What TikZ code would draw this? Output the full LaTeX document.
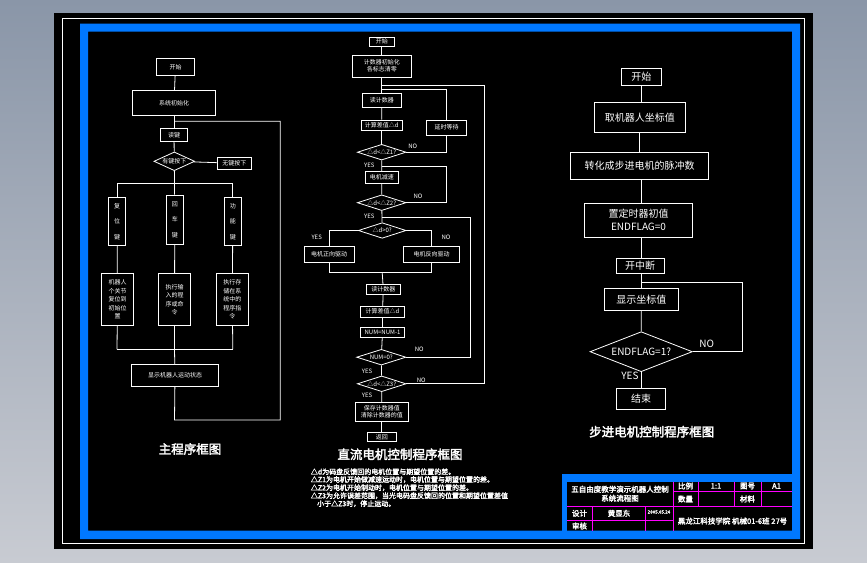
\documentclass[tikz,border=0pt]{standalone}
\usepackage{fontspec}
\newfontfamily\cjk{Noto Sans CJK SC}
\newfontfamily\cjkb{Noto Sans CJK SC}[FakeBold=2.5]
\usetikzlibrary{shapes.geometric}
\definecolor{cadblue}{RGB}{0,120,255}
\definecolor{mag}{RGB}{255,0,255}
\definecolor{bgtop}{RGB}{138,150,168}
\definecolor{bgbot}{RGB}{200,203,210}
\begin{document}
\begin{tikzpicture}[x=1pt,y=-1pt,
  bx/.style={draw=white, line width=0.8pt, text=white, inner sep=0pt, align=center, font=\cjk\fontsize{6}{7}\selectfont},
  bxr/.style={draw=white, line width=0.8pt, text=white, inner sep=0pt, align=center, font=\cjk\fontsize{10}{13}\selectfont},
  dia/.style={diamond, aspect=3, draw=white, line width=0.8pt, text=white, inner sep=0pt, font=\cjk\fontsize{6}{7}\selectfont},
  diar/.style={diamond, aspect=3, draw=white, line width=0.8pt, text=white, inner sep=0pt, font=\cjk\fontsize{10}{12}\selectfont},
  ln/.style={draw=white, line width=0.8pt},
  lbl/.style={text=white, inner sep=0pt, font=\cjk\fontsize{6}{7}\selectfont},
  lblr/.style={text=white, inner sep=0pt, font=\cjk\fontsize{10}{12}\selectfont},
  ttl/.style={text=white, inner sep=0pt, font=\cjkb\fontsize{12.5}{14}\selectfont},
  note/.style={text=white, inner sep=0pt, anchor=west, font=\cjkb\fontsize{7}{8}\selectfont},
  tb/.style={text=white, inner sep=0pt, align=center, font=\cjkb\fontsize{7.5}{9}\selectfont},
  mg/.style={draw=mag, line width=0.8pt}
]
\useasboundingbox (0,0) rectangle (867,562);
\shade[top color=bgtop, bottom color=bgbot] (0,0) rectangle (867,562);
\fill[black] (54,13) rectangle (813,549);
\draw[white, line width=1pt] (62,18.5) rectangle (804.5,543);
\fill[cadblue, even odd rule] (80,23.5) rectangle (800,539) (88,31.7) rectangle (792,530.7);

% ---------------- left chart ----------------
\node[bx, minimum width=38.7pt, minimum height=17pt] (l0) at (175.5,66.8) {开始};
\node[bx, minimum width=83.4pt, minimum height=25pt] (l1) at (174,102.8) {系统初始化};
\node[bx, minimum width=27.7pt, minimum height=13pt] (l2) at (174,134.8) {读键};
\node[dia, minimum width=38.7pt, minimum height=18.7pt] (l3) at (174.3,161.3) {有键按下};
\node[bx, minimum width=34.7pt, minimum height=12.3pt] (l4) at (234.3,163.2) {无键按下};
\node[bx, minimum width=17.4pt, minimum height=48pt, font=\cjk\fontsize{6}{15.5}\selectfont] (k1) at (117,221.3) {复\\位\\键};
\node[bx, minimum width=17.7pt, minimum height=49.7pt, font=\cjk\fontsize{6}{15.5}\selectfont] (k2) at (174.8,219.8) {回\\车\\键};
\node[bx, minimum width=17.7pt, minimum height=48pt, font=\cjk\fontsize{6}{15.5}\selectfont] (k3) at (232.8,221.3) {功\\能\\键};
\node[bx, minimum width=32.4pt, minimum height=52.4pt, font=\cjk\fontsize{6}{8.5}\selectfont] (a1) at (117.5,299.5) {机器人\\个关节\\复位到\\初始位\\置};
\node[bx, minimum width=32.4pt, minimum height=52.4pt, font=\cjk\fontsize{6}{8.5}\selectfont] (a2) at (174.5,299.5) {执行输\\入的程\\序或命\\令};
\node[bx, minimum width=32.7pt, minimum height=52.4pt, font=\cjk\fontsize{6}{8.5}\selectfont] (a3) at (232.3,299.5) {执行存\\储在系\\统中的\\程序指\\令};
\node[bx, minimum width=87.4pt, minimum height=22.4pt] (l5) at (175,375.5) {显示机器人运动状态};
\coordinate (lb1) at (117,183.3); \coordinate (lb2) at (174.5,183.3); \coordinate (lb3) at (232.8,183.3);
\coordinate (lc1) at (117,349.3); \coordinate (lc2) at (174.5,349.3); \coordinate (lc3) at (232.8,349.3);
\coordinate (lp1) at (174.5,121.3); \coordinate (lp2) at (280.3,121.3);
\coordinate (lp3) at (280.3,420); \coordinate (lp4) at (174.5,420);
\draw[ln] (l0) -- (l1); \draw[ln] (l1) -- (l2); \draw[ln] (l2) -- (l3);
\draw[ln] (l3) -- (l4);
\draw[ln] (l3) -- (lb2);
\draw[ln] (lb1) -- (lb3);
\draw[ln] (lb1) -- (k1); \draw[ln] (lb2) -- (k2); \draw[ln] (lb3) -- (k3);
\draw[ln] (k1) -- (a1); \draw[ln] (k2) -- (a2); \draw[ln] (k3) -- (a3);
\draw[ln] (a1) -- (lc1); \draw[ln] (a2) -- (lc2); \draw[ln] (a3) -- (lc3);
\draw[ln] (lc1) -- (lc3);
\draw[ln] (lc2) -- (l5);
\draw[ln] (l5) -- (lp4) -- (lp3) -- (lp2) -- (lp1);
\node[ttl] (lt) at (190,449) {主程序框图};

% ---------------- middle chart ----------------
\node[bx, minimum width=25.7pt, minimum height=8.7pt] (m0) at (381.8,41.7) {开始};
\node[bx, minimum width=59pt, minimum height=22.3pt] (m1) at (381.8,66.2) {计数器初始化\\各标志清零};
\node[bx, minimum width=39pt, minimum height=14pt] (m2) at (381.8,100.3) {读计数器};
\node[bx, minimum width=41.3pt, minimum height=10pt] (m3) at (381.7,125) {计算差值△d};
\node[bx, minimum width=40.4pt, minimum height=15pt] (m4) at (446.5,127.5) {延时等待};
\node[dia, minimum width=48.7pt, minimum height=15.7pt] (m5) at (381.7,152.2) {△d<△Z1?};
\node[bx, minimum width=33.7pt, minimum height=11.6pt] (m6) at (381.8,177.5) {电机减速};
\node[dia, minimum width=48.7pt, minimum height=15.7pt] (m7) at (381.7,202.7) {△d<△Z2?};
\node[dia, minimum width=47.7pt, minimum height=15.6pt] (m8) at (382.2,230.5) {△d>0?};
\node[bx, minimum width=50.3pt, minimum height=16.3pt] (m9) at (329.2,254.2) {电机正向驱动};
\node[bx, minimum width=56.4pt, minimum height=16.3pt] (m10) at (431.5,254.2) {电机反向驱动};
\node[bx, minimum width=34pt, minimum height=10pt] (m11) at (383.3,289.3) {读计数器};
\node[bx, minimum width=44.4pt, minimum height=11pt] (m12) at (382.5,311.7) {计算差值△d};
\node[bx, minimum width=44.4pt, minimum height=10pt] (m13) at (382.5,332.7) {NUM=NUM-1};
\node[dia, minimum width=49.3pt, minimum height=15.7pt] (m14) at (381.3,357.2) {NUM=0?};
\node[dia, minimum width=48.7pt, minimum height=15.7pt] (m15) at (381.7,383.8) {△d<△Z3?};
\node[bx, minimum width=53.7pt, minimum height=19.4pt] (m16) at (381.8,412) {保存计数器值\\清除计数器的值};
\node[bx, minimum width=29pt, minimum height=9.7pt] (m17) at (381.8,436.8) {返回};
\coordinate (mo1) at (381.8,85); \coordinate (mo2) at (484.3,85); \coordinate (mo3) at (484.3,383.8);
\coordinate (mi1) at (381.8,89.3); \coordinate (mi2) at (446.5,89.3); \coordinate (mi3) at (446.5,152.2);
\coordinate (mj1) at (381.8,166.7); \coordinate (mj2) at (446.7,166.7); \coordinate (mj3) at (446.7,202.7);
\coordinate (mk1) at (381.8,217.7); \coordinate (mk2) at (470.3,217.7); \coordinate (mk3) at (470.3,357.2);
\coordinate (mq1) at (329.2,230.5); \coordinate (mq2) at (431.5,230.5);
\coordinate (mr1) at (329.2,272.3); \coordinate (mr2) at (431.5,272.3); \coordinate (mr3) at (382.2,272.3);
\draw[ln] (m0) -- (m1); \draw[ln] (m1) -- (m2); \draw[ln] (m2) -- (m3); \draw[ln] (m3) -- (m5);
\draw[ln] (mo1) -- (mo2) -- (mo3) -- (m15.east);
\draw[ln] (mi1) -- (mi2) -- (m4.north); \draw[ln] (m4.south) -- (mi3) -- (m5.east);
\draw[ln] (m5) -- (m6); \draw[ln] (m6) -- (m7); \draw[ln] (m7) -- (m8);
\draw[ln] (mj1) -- (mj2) -- (mj3) -- (m7.east);
\draw[ln] (mk1) -- (mk2) -- (mk3) -- (m14.east);
\draw[ln] (m8.west) -- (mq1) -- (m9.north); \draw[ln] (m8.east) -- (mq2) -- (m10.north);
\draw[ln] (m9.south) -- (mr1) -- (mr2) -- (m10.south);
\draw[ln] (mr3) -- (m11);
\draw[ln] (m11) -- (m12); \draw[ln] (m12) -- (m13); \draw[ln] (m13) -- (m14); \draw[ln] (m14) -- (m15);
\draw[ln] (m15) -- (m16); \draw[ln] (m16) -- (m17);
\node[lbl] (n1) at (412.7,146.7) {NO};
\node[lbl] (y1) at (369.3,165) {YES};
\node[lbl] (n2) at (418,196.7) {NO};
\node[lbl] (y2) at (369.3,216) {YES};
\node[lbl] (y3) at (316.7,237.3) {YES};
\node[lbl] (n3) at (446,237.3) {NO};
\node[lbl] (n4) at (419.3,349.3) {NO};
\node[lbl] (y4) at (367,371) {YES};
\node[lbl] (n5) at (421.3,380) {NO};
\node[lbl] (y5) at (367,395.3) {YES};
\node[ttl] (mt) at (400,454.3) {直流电机控制程序框图};

% ---------------- right chart ----------------
\node[bxr, minimum width=40.7pt, minimum height=17.4pt] (r0) at (641.3,77) {开始};
\node[bxr, minimum width=91.7pt, minimum height=30pt] (r1) at (639.8,117.3) {取机器人坐标值};
\node[bxr, minimum width=137.6pt, minimum height=27pt] (r2) at (639.5,165.8) {转化成步进电机的脉冲数};
\node[bxr, minimum width=108.4pt, minimum height=34pt] (r3) at (638.5,220.3) {置定时器初值\\ENDFLAG=0};
\node[bxr, minimum width=48pt, minimum height=15pt] (r4) at (640,265.8) {开中断};
\node[bxr, minimum width=74.7pt, minimum height=22.4pt] (r5) at (641.3,299.5) {显示坐标值};
\node[diar, minimum width=102.3pt, minimum height=40pt] (r6) at (641.2,351.7) {ENDFLAG=1?};
\node[bxr, minimum width=49pt, minimum height=20.7pt] (r7) at (641.2,398.7) {结束};
\coordinate (rp1) at (641.3,282.7); \coordinate (rp2) at (742.3,282.7); \coordinate (rp3) at (742.3,351.7);
\draw[ln] (r0) -- (r0 |- r1.north); \draw[ln] (r1) -- (r1 |- r2.north);
\draw[ln] (r2.south -| r0) -- (r3.north -| r0); \draw[ln] (r3.south -| r0) -- (r4.north -| r0);
\draw[ln] (r4.south -| r0) -- (r5.north -| r0);
\draw[ln] (rp1) -- (rp2) -- (rp3) -- (r6.east);
\draw[ln] (r5.south -| r0) -- (r6.north); \draw[ln] (r6) -- (r7);
\node[lblr] (rn) at (706.7,344) {NO};
\node[lblr] (ry) at (630,375.7) {YES};
\node[ttl] (rt) at (651.7,431.7) {步进电机控制程序框图};

% ---------------- notes ----------------
\node[note] (t1) at (310.7,471.7) {△d为码盘反馈回的电机位置与期望位置的差。};
\node[note] (t2) at (310.7,479.5) {△Z1为电机开始做减速运动时，电机位置与期望位置的差。};
\node[note] (t3) at (310.7,487.7) {△Z2为电机开始制动时，电机位置与期望位置的差。};
\node[note] (t4) at (310.7,495.7) {△Z3为允许误差范围，当光电码盘反馈回的位置和期望位置差值};
\node[note] (t5) at (317,503.7) {小于△Z3时，停止运动。};

% ---------------- title block ----------------
\fill[cadblue] (562,474) rectangle (792,481.5);
\fill[cadblue] (562,474) rectangle (567,531);
\draw[mg] (567,506) -- (792,506);
\draw[mg] (673,491.7) -- (792,491.7);
\draw[mg] (567,520.7) -- (673,520.7);
\draw[mg] (673,481.5) -- (673,530.7);
\draw[mg] (698,481.5) -- (698,506);
\draw[mg] (734,481.5) -- (734,506);
\draw[mg] (761,481.5) -- (761,506);
\draw[mg] (592,506) -- (592,530.7);
\draw[mg] (645.7,506) -- (645.7,530.7);
\node[tb] (b1) at (620,493.7) {五自由度教学演示机器人控制\\系统流程图};
\node[tb] (b2) at (685.5,486) {比例};
\node[tb] (b3) at (716,486) {1:1};
\node[tb] (b4) at (747.5,486) {图号};
\node[tb] (b5) at (776.5,486) {A1};
\node[tb] (b6) at (685.5,499) {数量};
\node[tb] (b7) at (747.5,499) {材料};
\node[tb] (b8) at (579.5,513.3) {设计};
\node[tb] (b9) at (619,513.3) {黄显东};
\node[tb, font=\cjkb\fontsize{4.5}{5}\selectfont] (b10) at (659,512) {2005.05.24};
\node[tb] (b11) at (579.5,526) {审核};
\node[tb] (b12) at (732.5,521) {黑龙江科技学院 机械01-6班 27号};
\end{tikzpicture}
\end{document}
